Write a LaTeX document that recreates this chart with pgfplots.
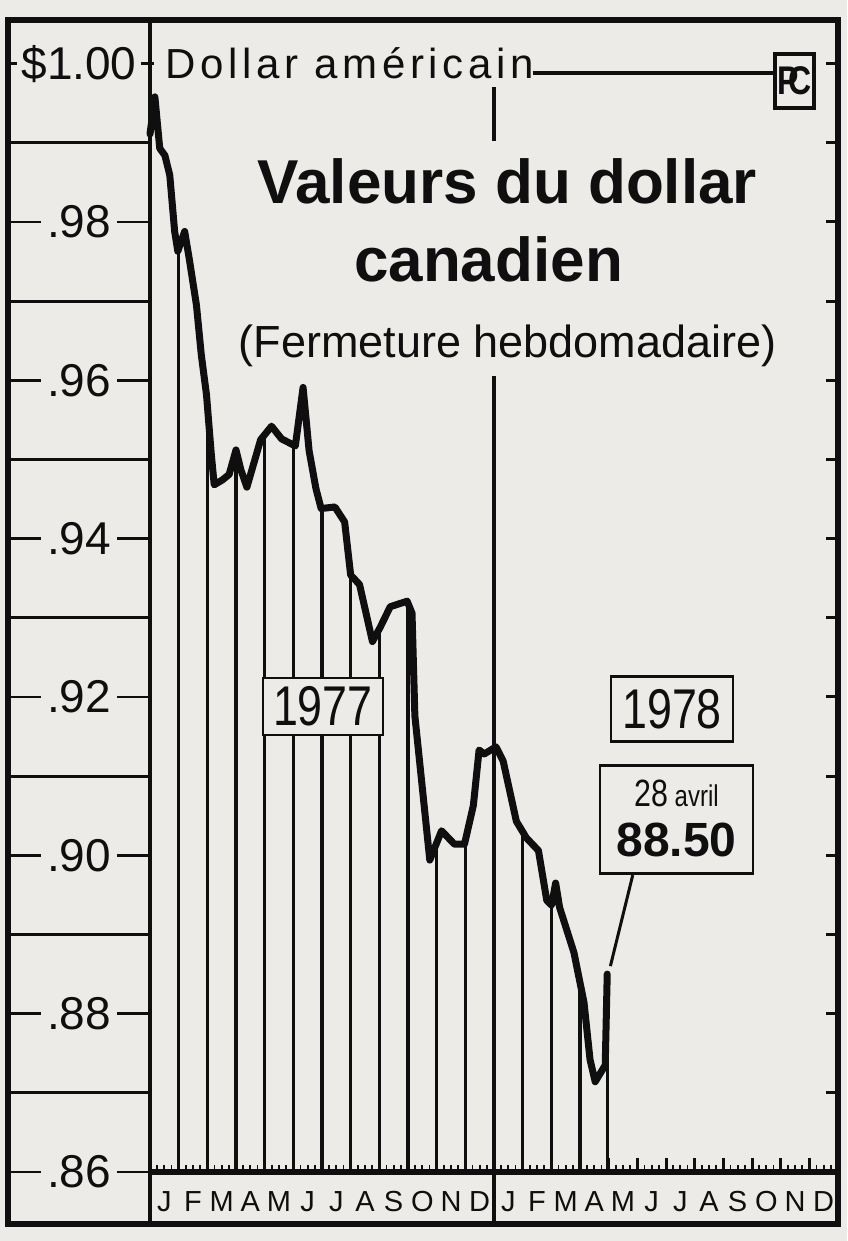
\documentclass[border=0pt]{standalone}
\usepackage{pgfplots}
\pgfplotsset{compat=1.18}
\usepackage{fontspec}
\setmainfont{Liberation Sans}
\newfontfamily\condfont[FakeStretch=0.8]{Liberation Sans}
\definecolor{bg}{RGB}{236,235,231}
\definecolor{ink}{RGB}{15,15,15}
\begin{document}
\begin{tikzpicture}[x=1pt,y=1pt]
\fill[bg] (-75,-34.5) rectangle (348.5,586);
\begin{axis}[
  at={(0,0)}, anchor=south west,
  scale only axis, width=344pt, height=576pt,
  xmin=0, xmax=24, ymin=0.86, ymax=1.00551,
  clip=false,
  axis line style={line width=2pt, ink},
  tick align=inside,
  xtick pos=left, ytick pos=left,
  xtick={0.5,1.5,...,23.5},
  xticklabels={J,F,M,A,M,J,J,A,S,O,N,D,J,F,M,A,M,J,J,A,S,O,N,D},
  major tick length=0pt,
  minor xtick={0,0.25,...,24},
  minor tick length=3.5pt,
  minor tick style={line width=0.9pt, ink},
  extra x ticks={0,1,...,24},
  extra x tick labels={},
  extra x tick style={major tick length=7pt, major tick style={line width=1.5pt, ink}},
  xticklabel style={font=\fontsize{14.5}{14.5}\selectfont, anchor=center, yshift=-15pt, text=ink},
  ytick={0.86,0.88,0.90,0.92,0.94,0.96,0.98,1.00},
  yticklabels={.86,.88,.90,.92,.94,.96,.98,\$1.00},
  yticklabel style={font=\fontsize{23}{23}\selectfont, anchor=center, xshift=-35.5pt, text=ink},
  scaled y ticks=false,
]
% left column lines at odd cents
\pgfplotsinvokeforeach{0.87,0.89,0.91,0.93,0.95,0.97,0.99}{
  \draw[ink, line width=1.4pt] (axis cs:-4.953,#1) -- (axis cs:0,#1);
}
% dashes beside labels
\pgfplotsinvokeforeach{0.86,0.88,0.90,0.92,0.94,0.96,0.98}{
  \draw[ink, line width=1.4pt] (axis cs:-4.953,#1) -- (axis cs:-3.8,#1);
  \draw[ink, line width=1.4pt] (axis cs:-1.15,#1) -- (axis cs:0,#1);
}
\draw[ink, line width=1.4pt] (axis cs:-4.953,1.0) -- (axis cs:-4.65,1.0);
\draw[ink, line width=1.4pt] (axis cs:-0.3,1.0) -- (axis cs:0.15,1.0);
% right side ticks
\pgfplotsinvokeforeach{0.87,0.88,0.89,0.90,0.91,0.92,0.93,0.94,0.95,0.96,0.97,0.98,0.99,1.00}{
  \draw[ink, line width=1.5pt] (axis cs:24,#1) -- (axis cs:23.58,#1);
}
% hatch lines at month boundaries
\addplot[ink, line width=1.7pt, unbounded coords=jump] coordinates {
 (1,0.86) (1,0.9766) (1,nan)
 (2,0.86) (2,0.9569) (2,nan)
 (3,0.86) (3,0.9512) (3,nan)
 (4,0.86) (4,0.9531) (4,nan)
 (5,0.86) (5,0.9518) (5,nan)
 (6,0.86) (6,0.9438) (6,nan)
 (7,0.86) (7,0.9354) (7,nan)
 (8,0.86) (8,0.9286) (8,nan)
 (9,0.86) (9,0.9320) (9,nan)
 (10,0.86) (10,0.9016) (10,nan)
 (11,0.86) (11,0.9019) (11,nan)
 (12,0.86) (12,0.9605) (12,nan)
 (12,0.9902) (12,0.9970) (12,nan)
 (13,0.86) (13,0.9030) (13,nan)
 (14,0.86) (14,0.8937) (14,nan)
 (15,0.86) (15,0.8839) (15,nan)
 (15.95,0.86) (15.95,0.8850)
};
% weekly closing value
\addplot[ink, line width=3.5pt, line join=round, line cap=round] coordinates {
(0,0.9911) (0.17,0.9958) (0.34,0.9893) (0.52,0.9884) (0.69,0.9859)
(0.86,0.9788) (0.97,0.9763) (1.21,0.9788) (1.38,0.9751) (1.62,0.9695)
(1.79,0.9632) (1.97,0.9582) (2.14,0.9506) (2.24,0.9468) (2.52,0.9474)
(2.76,0.9481) (3.00,0.9512) (3.17,0.9487) (3.38,0.9465) (3.62,0.9495)
(3.86,0.9525) (4.24,0.9542) (4.59,0.9526) (5.07,0.9517) (5.34,0.9591)
(5.55,0.9511) (5.79,0.9463) (5.97,0.9438) (6.45,0.9440) (6.79,0.9421)
(7.00,0.9354) (7.31,0.9342) (7.76,0.9270) (8.03,0.9288) (8.38,0.9314)
(8.97,0.9321) (9.14,0.9306) (9.24,0.9176) (9.76,0.8994) (10.17,0.9031)
(10.62,0.9014) (10.97,0.9014) (11.28,0.9063) (11.48,0.9133) (11.66,0.9128)
(12.07,0.9137) (12.32,0.9119) (12.78,0.9043) (13.13,0.9022) (13.55,0.9006)
(13.84,0.8943) (14.01,0.8937) (14.15,0.8965) (14.29,0.8934) (14.79,0.8877)
(15.14,0.8814) (15.35,0.8742) (15.53,0.8714) (15.88,0.8735) (15.95,0.8850)
};
% frame
\draw[ink, line width=2.6pt] (axis cs:0,0.86) -- (axis cs:24,0.86);
\draw[ink, line width=2pt] (axis cs:0,0.86) -- (axis cs:0,0.85343);
\draw[ink, line width=2pt] (axis cs:12,0.86) -- (axis cs:12,0.85343);
\draw[ink, line width=3pt] (axis cs:-4.953,0.85343) rectangle (axis cs:24,1.00551);
% header
\node[anchor=west, text=ink, font=\fontsize{21}{21}\selectfont\addfontfeatures{LetterSpace=11}] at (axis cs:0.3,1.0) {Dollar américain};
\draw[ink, line width=1.8pt] (axis cs:13.35,0.9988) -- (axis cs:21.9,0.9988);
\node[draw=ink, line width=2pt, fill=bg, inner sep=1pt, minimum width=17pt, minimum height=27pt, text=ink, font=\condfont\bfseries\fontsize{20}{20}\selectfont] at (axis cs:22.48,0.9978) {P\kern-5pt C};
% title
\node[text=ink, font=\bfseries\fontsize{31}{31}\selectfont] at (axis cs:12.46,0.9851) {Valeurs du dollar};
\node[text=ink, font=\bfseries\fontsize{31}{31}\selectfont] at (axis cs:11.81,0.9753) {canadien};
\node[text=ink, font=\fontsize{22.5}{22.5}\selectfont] at (axis cs:12.48,0.9643) {(Fermeture hebdomadaire)};
% year boxes
\node[draw=ink, line width=1.3pt, fill=bg, minimum width=60pt, minimum height=28.5pt, inner sep=1pt, text=ink, font=\condfont\fontsize{28}{28}\selectfont] at (axis cs:6.03,0.9188) {1977};
\node[draw=ink, line width=1.3pt, fill=bg, minimum width=61pt, minimum height=32.5pt, inner sep=1pt, text=ink, font=\condfont\fontsize{28}{28}\selectfont] at (axis cs:18.21,0.9185) {1978};
\node[draw=ink, line width=1.3pt, fill=bg, minimum width=76.5pt, minimum height=54pt, inner sep=2pt, text=ink] (lab) at (axis cs:18.37,0.9045) {};
\node[text=ink, font=\condfont\fontsize{19}{19}\selectfont, anchor=base] at ([yshift=-21pt]lab.north) {28\,{\fontsize{15}{15}\selectfont avril}};
\node[text=ink, font=\bfseries\fontsize{24}{24}\selectfont, anchor=base] at ([yshift=9pt]lab.south) {88.50};
\draw[ink, line width=1.5pt] (axis cs:16.84,0.8975) -- (axis cs:16.06,0.8860);
\end{axis}
\end{tikzpicture}
\end{document}
